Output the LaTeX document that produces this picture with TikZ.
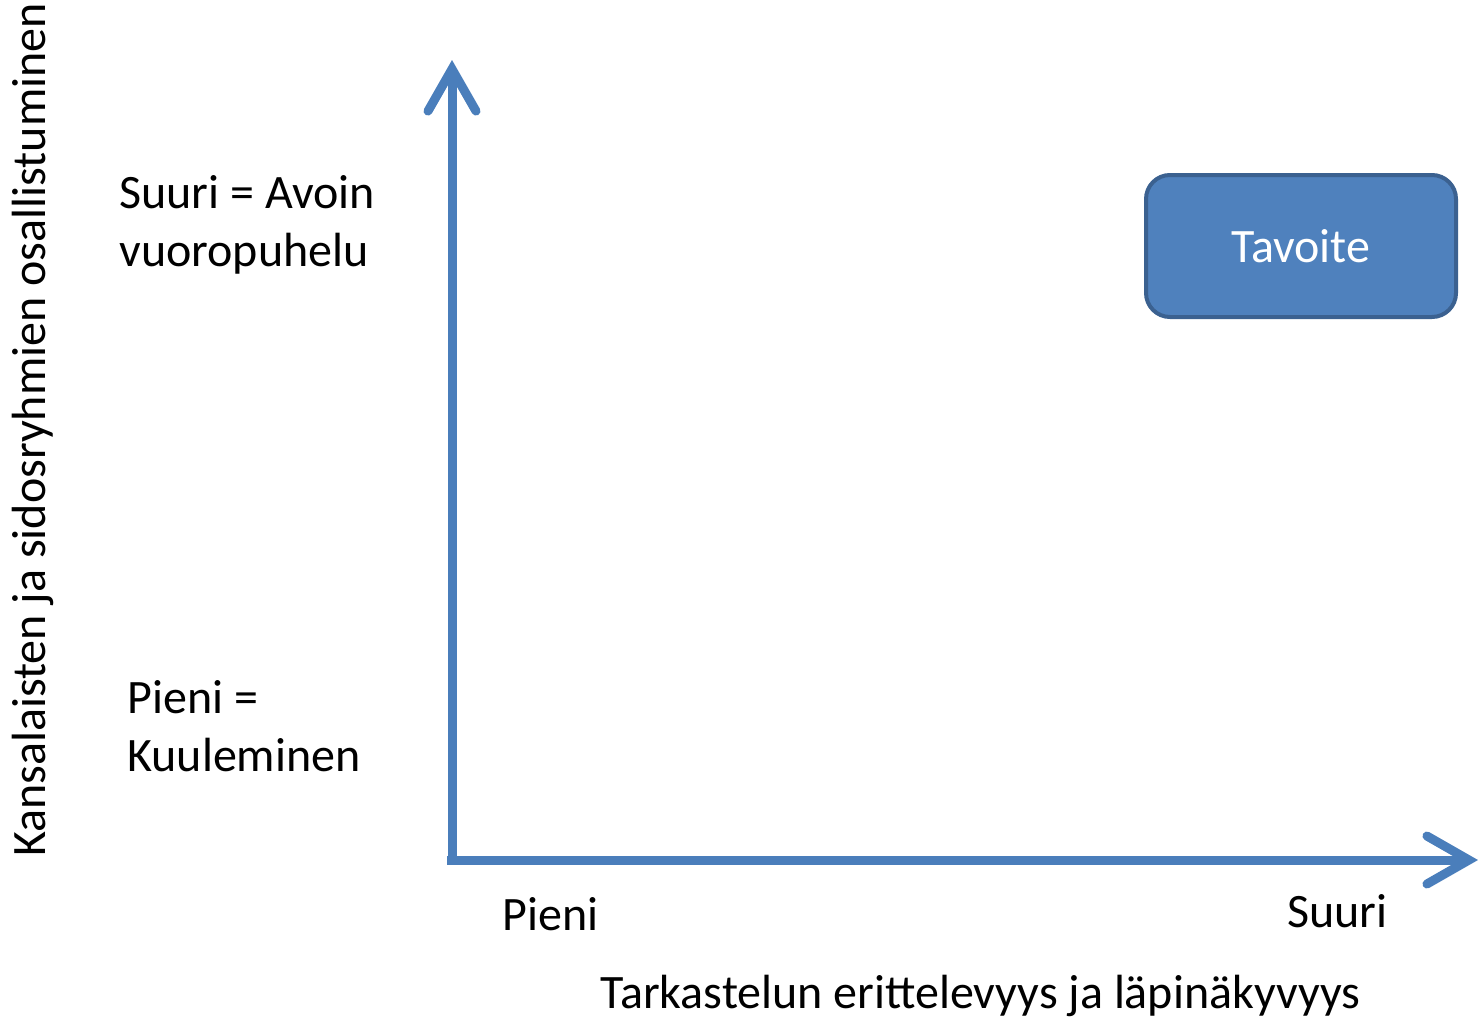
\documentclass[tikz,border=0pt]{standalone}
\usepackage{fontspec}
\setmainfont{Carlito}
\usetikzlibrary{arrows.meta}
\definecolor{axisblue}{HTML}{4A7EBB}
\definecolor{boxfill}{HTML}{4F81BD}
\definecolor{boxline}{HTML}{3B6190}

\begin{document}
\begin{tikzpicture}[x=0.5pt,y=-0.5pt,
    axis/.style={axisblue,line width=4.5pt,
      -{Straight Barb[length=21pt,width=24pt,line cap=round,line join=miter]}},
    lbl/.style={inner sep=0pt,align=left,
      font=\fontsize{24pt}{29pt}\selectfont},
    goal/.style={draw=boxline,fill=boxfill,line width=2pt,
      rounded corners=12pt,minimum width=155pt,minimum height=71pt,
      text=white,font=\fontsize{24pt}{29pt}\selectfont}]
            \useasboundingbox (0,0) rectangle (1478,1017);
            \coordinate (origin) at (452,860);
            \coordinate (ytip) at (452,60);
            \coordinate (xtip) at (1478,860);
            \coordinate (corner) at (447,860);
            \draw[axis] (origin)--(ytip);
            \draw[axis] (corner)--(xtip);
            \node[goal] (tavoite) at (1301,246) {Tavoite};
            \node[lbl,anchor=base west] (suuriy) at (119,266) {Suuri = Avoin\\vuoropuhelu};
            \node[lbl,anchor=base west] (pieniy) at (127,771) {Pieni =\\Kuuleminen};
            \node[lbl,anchor=base west] (pienix) at (502,930) {Pieni};
            \node[lbl,anchor=base west] (suurix) at (1287,927) {Suuri};
            \node[lbl,anchor=base west] (xlabel) at (600,1008) {Tarkastelun erittelevyys ja läpinäkyvyys};
            \node[lbl,anchor=base,rotate=90] (ylabel) at (46,430) {Kansalaisten ja sidosryhmien osallistuminen};
        \end{tikzpicture}
\end{document}
